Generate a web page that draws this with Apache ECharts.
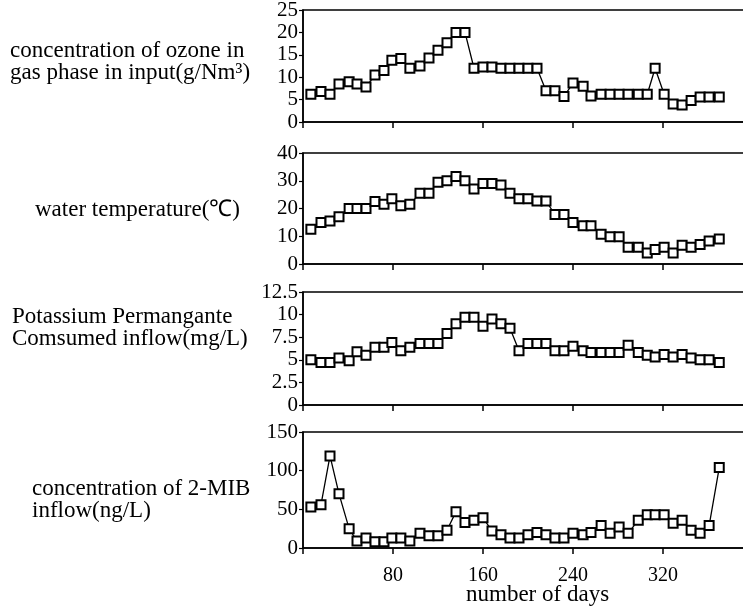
<!DOCTYPE html>
<html>
<head>
<meta charset="utf-8">
<script src="https://cdn.jsdelivr.net/npm/echarts@6/dist/echarts.min.js"></script>
<style>
  html, body { margin: 0; padding: 0; background: #fff; }
  #chart { width: 743px; height: 609px; }
</style>
</head>
<body>
<div id="chart"></div>
<script>
// sampling days (shared by all four panels)
var days = [7, 16, 24, 32, 41, 48, 56, 64, 72, 79, 87, 95, 104, 112, 120, 128, 136, 144, 152, 160,
  168, 176, 184, 192, 200, 208, 216, 224, 232, 240, 249, 256, 265, 273, 281, 289, 298, 306, 313, 321,
  329, 337, 345, 353, 361, 370];

var ozone = [6.2, 6.8, 6.2, 8.5, 9, 8.5, 7.8, 10.5, 11.5, 13.8, 14.2, 12, 12.5, 14.3, 16, 17.7, 20, 20, 12, 12.3,
  12.3, 12, 12, 12, 12, 12, 7, 7, 5.7, 8.7, 8, 5.8, 6.2, 6.2, 6.2, 6.2, 6.2, 6.2, 12, 6.2,
  4, 3.8, 4.8, 5.6, 5.6, 5.6];

var waterTemp = [12.5, 15, 15.5, 17, 20, 20, 20, 22.5, 21.5, 23.5, 21, 21.5, 25.5, 25.5, 29.5, 30, 31.5, 30, 27, 29,
  29, 28.5, 25.5, 23.5, 23.5, 22.7, 22.7, 17.8, 17.8, 15, 13.8, 13.8, 10.7, 9.8, 9.8, 6, 6, 4, 5.2, 6,
  4, 6.8, 6, 7, 8.3, 9];

var kmno4 = [5, 4.7, 4.7, 5.2, 4.9, 5.9, 5.5, 6.4, 6.4, 6.9, 6, 6.4, 6.8, 6.8, 6.8, 7.9, 9, 9.7, 9.7, 8.7,
  9.5, 9, 8.5, 6, 6.8, 6.8, 6.8, 6, 6, 6.5, 6, 5.8, 5.8, 5.8, 5.8, 6.6, 5.8, 5.5, 5.3, 5.6,
  5.3, 5.6, 5.2, 5, 5, 4.7];

var mib = [53, 56, 119, 70, 25, 9, 13, 8, 8, 13, 13, 9, 19, 16, 16, 23, 47, 33, 36, 39,
  22, 17, 13, 13, 17, 20, 17, 13, 13, 19, 17, 20, 29, 19, 27, 19, 36, 43, 43, 43,
  32, 36, 23, 19, 29, 104];

var xTicks = [0, 80, 160, 240, 320];
var yMax = [25, 40, 12.5, 150];
var yStep = [5, 10, 2.5, 50];
var panelLabels = [
  { text: "concentration of ozone in\ngas phase in input(g/Nm³)", x: 10, y: 39 },
  { text: "water temperature(℃)", x: 35, y: 198 },
  { text: "Potassium Permangante\nComsumed inflow(mg/L)", x: 12, y: 305 },
  { text: "concentration of 2-MIB\ninflow(ng/L)", x: 32, y: 477 }
];

var font = "'Liberation Serif', 'Times New Roman', serif";
var tops = [10, 153, 292, 432];
var heights = [112, 111, 113, 116];
var allData = [ozone, waterTemp, kmno4, mib];

var chart = echarts.init(document.getElementById("chart"));

var grids = [], xAxes = [], yAxes = [], series = [];
for (var i = 0; i < 4; i++) {
  // plot runs past the right edge of the page, like the cropped original
  grids.push({
    left: 303, width: 450, top: tops[i], height: heights[i],
    outerBoundsMode: "none", containLabel: false,
    show: true, borderColor: "#000", borderWidth: 1.5, backgroundColor: "transparent"
  });
  xAxes.push({
    type: "value", gridIndex: i, min: 0, max: 400, interval: 80,
    axisLine: { lineStyle: { color: "#000", width: 1.5 } },
    axisTick: { show: true, length: 6, inside: false, lineStyle: { color: "#000", width: 1.5 } },
    axisLabel: {
      show: i === 3, margin: 18, color: "#000", fontFamily: font, fontSize: 20,
      showMaxLabel: false,
      formatter: function (v) { return xTicks.indexOf(v) > 0 ? String(v) : ""; }
    },
    splitLine: { show: false }
  });
  yAxes.push({
    type: "value", gridIndex: i, min: 0, max: yMax[i], interval: yStep[i],
    axisLine: { show: true, lineStyle: { color: "#000", width: 1.5 } },
    axisTick: { show: true, length: 4, lineStyle: { color: "#000", width: 1.2 } },
    axisLabel: { color: "#000", fontFamily: font, fontSize: 21, margin: 5 },
    splitLine: { show: false }
  });
  var pts = [];
  for (var k = 0; k < days.length; k++) pts.push([days[k], allData[i][k]]);
  series.push({
    type: "line", xAxisIndex: i, yAxisIndex: i, data: pts,
    symbol: "rect", symbolSize: 9, showAllSymbol: true,
    lineStyle: { color: "#000", width: 1.3 },
    itemStyle: { color: "#fff", borderColor: "#000", borderWidth: 2 },
    animation: false
  });
}

var graphics = panelLabels.map(function (p) {
  return {
    type: "text", left: p.x, top: p.y,
    style: { text: p.text, font: "23px " + font, fill: "#000", lineHeight: 22 }
  };
});
graphics.push({
  type: "text", left: 466, top: 583,
  style: { text: "number of days", font: "23px " + font, fill: "#000" }
});

chart.setOption({
  animation: false,
  grid: grids,
  xAxis: xAxes,
  yAxis: yAxes,
  series: series,
  graphic: graphics
});
</script>
</body>
</html>
